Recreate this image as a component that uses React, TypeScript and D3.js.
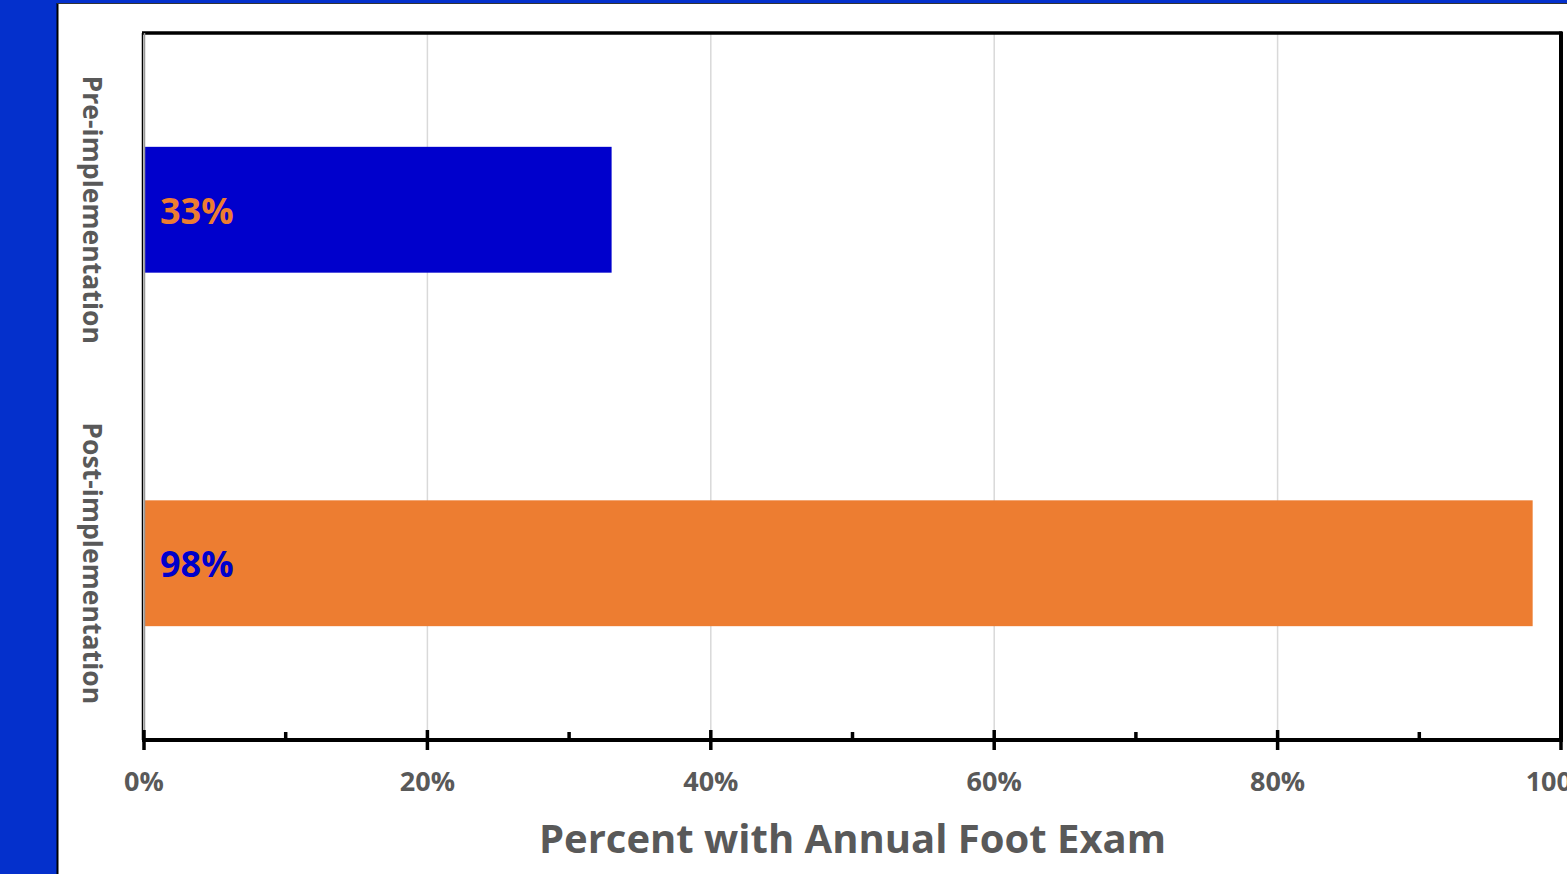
import React from "react";
import * as d3 from "d3";

// Chart data
const categories = ["Pre-implementation", "Post-implementation"];
const values = [0.33, 0.98];
const valueLabels = ["33%", "98%"];
const barColors = ["#0000CC", "#ED7D31"];
const labelColors = ["#ED7D31", "#0000CC"];
const majorTicks = [0, 0.2, 0.4, 0.6, 0.8, 1.0];
const minorTicks = [0.1, 0.3, 0.5, 0.7, 0.9];
const tickLabels = ["0%", "20%", "40%", "60%", "80%", "100%"];
const axisTitle = "Percent with Annual Foot Exam";

const W = 1567;
const H = 874;
const plot = { left: 144, right: 1561, top: 33, bottom: 740 };
const FONT = "'Open Sans', 'Noto Sans', sans-serif";
const GRAY = "#595959";

export default function App() {
  const x = d3.scaleLinear().domain([0, 1]).range([plot.left, plot.right]);
  const y = d3
    .scaleBand<string>()
    .domain(categories)
    .range([plot.top, plot.bottom])
    .paddingInner(0.644)
    .paddingOuter(0.322);

  return (
    <svg
      width={W}
      height={H}
      style={{ position: "absolute", left: 0, top: 0, display: "block" }}
    >
      {/* slide background */}
      <rect x={0} y={0} width={W} height={H} fill="#ffffff" />
      <rect x={0} y={0} width={57} height={H} fill="#0430CC" />
      <rect x={0} y={0} width={W} height={3} fill="#0430CC" />
      <line x1={57.5} y1={3} x2={57.5} y2={H} stroke="#000" strokeWidth={2} />
      <line x1={57} y1={3.5} x2={W} y2={3.5} stroke="#333" strokeWidth={1.2} />

      {/* gridlines */}
      {majorTicks.slice(1, -1).map((t) => (
        <line
          key={"g" + t}
          x1={x(t)}
          x2={x(t)}
          y1={plot.top}
          y2={plot.bottom}
          stroke="#D9D9D9"
          strokeWidth={1.5}
        />
      ))}

      {/* bars */}
      {categories.map((c, i) => (
        <rect
          key={c}
          x={x(0)}
          y={y(c)!}
          width={x(values[i]) - x(0)}
          height={y.bandwidth()}
          fill={barColors[i]}
        />
      ))}

      {/* plot frame */}
      <line x1={plot.left - 2} y1={plot.top} x2={plot.right + 1} y2={plot.top} stroke="#000" strokeWidth={3.5} />
      <line x1={plot.right} y1={plot.top - 1.5} x2={plot.right} y2={plot.bottom} stroke="#000" strokeWidth={4} />
      <line x1={plot.left - 1.5} y1={plot.top} x2={plot.left - 1.5} y2={plot.bottom} stroke="#000" strokeWidth={1.5} />
      <line x1={plot.left + 0.5} y1={plot.top} x2={plot.left + 0.5} y2={plot.bottom} stroke="#999" strokeWidth={1.5} />

      {/* x axis */}
      <line x1={plot.left - 2} y1={plot.bottom} x2={plot.right + 2} y2={plot.bottom} stroke="#000" strokeWidth={4} />
      {majorTicks.map((t) => (
        <line key={"M" + t} x1={x(t)} x2={x(t)} y1={plot.bottom - 10} y2={plot.bottom + 10} stroke="#000" strokeWidth={3.5} />
      ))}
      {minorTicks.map((t) => (
        <line key={"m" + t} x1={x(t)} x2={x(t)} y1={plot.bottom - 8} y2={plot.bottom} stroke="#000" strokeWidth={3.5} />
      ))}
      {majorTicks.map((t, i) => (
        <text
          key={"l" + t}
          x={x(t)}
          y={791}
          textAnchor="middle"
          fontFamily={FONT}
          fontWeight={700}
          fontSize={27}
          fill={GRAY}
        >
          {tickLabels[i]}
        </text>
      ))}

      {/* axis title */}
      <text
        x={(plot.left + plot.right) / 2}
        y={853}
        textAnchor="middle"
        fontFamily={FONT}
        fontWeight={700}
        fontSize={40}
        fill={GRAY}
      >
        {axisTitle}
      </text>

      {/* category labels */}
      {categories.map((c) => (
        <text
          key={"c" + c}
          transform={`translate(83, ${y(c)! + y.bandwidth() / 2}) rotate(90)`}
          textAnchor="middle"
          fontFamily={FONT}
          fontWeight={700}
          fontSize={26.6}
          fill={GRAY}
        >
          {c}
        </text>
      ))}

      {/* value labels */}
      {categories.map((c, i) => (
        <text
          key={"v" + c}
          x={x(0) + 16}
          y={y(c)! + y.bandwidth() / 2 + 14}
          fontFamily={FONT}
          fontWeight={700}
          fontSize={36}
          fill={labelColors[i]}
        >
          {valueLabels[i]}
        </text>
      ))}
    </svg>
  );
}
